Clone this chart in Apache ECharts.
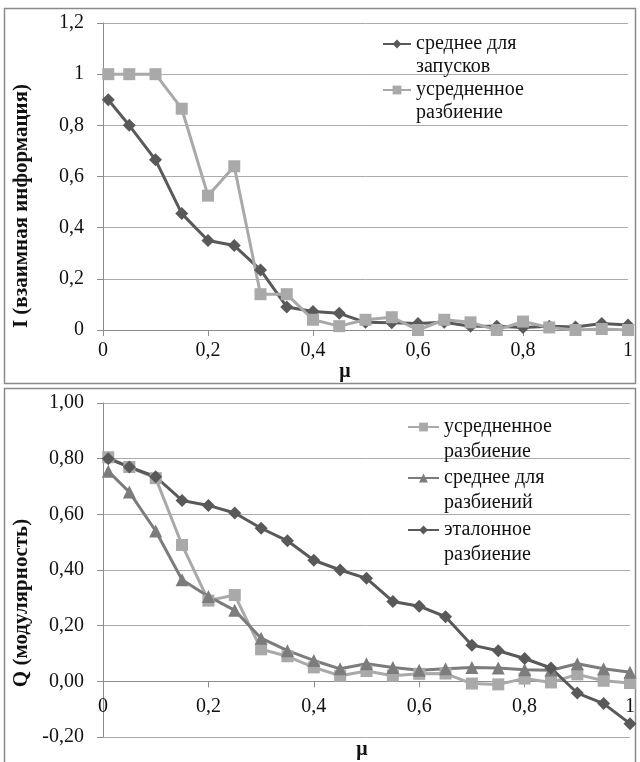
<!DOCTYPE html>
<html>
<head>
<meta charset="utf-8">
<script src="https://cdn.jsdelivr.net/npm/echarts@6/dist/echarts.min.js"></script>
<style>
html,body{margin:0;padding:0;background:#fff;}
#c{width:640px;height:762px;font-family:"Liberation Serif",serif;}
</style>
</head>
<body>
<div id="c"></div>
<script>
// ---- data ----
var muValues = [0.01, 0.05, 0.1, 0.15, 0.2, 0.25, 0.3, 0.35, 0.4, 0.45, 0.5, 0.55, 0.6, 0.65, 0.7, 0.75, 0.8, 0.85, 0.9, 0.95, 1.0];

// top chart: I (mutual information)
var topNames = ['среднее для запусков', 'усредненное разбиение'];
var topAvgRuns = [0.90, 0.80, 0.665, 0.455, 0.35, 0.33, 0.235, 0.09, 0.072, 0.065, 0.03, 0.028, 0.025, 0.03, 0.015, 0.015, 0.01, 0.015, 0.012, 0.025, 0.02];
var topAvgPartition = [1.0, 1.0, 1.0, 0.865, 0.525, 0.64, 0.14, 0.14, 0.04, 0.015, 0.04, 0.05, 0.0, 0.04, 0.03, 0.0, 0.033, 0.01, 0.0, 0.004, 0.0];

// bottom chart: Q (modularity)
var botNames = ['усредненное разбиение', 'среднее для разбиений', 'эталонное разбиение'];
var botAvgPartition = [0.805, 0.77, 0.73, 0.49, 0.29, 0.31, 0.115, 0.09, 0.05, 0.02, 0.037, 0.02, 0.027, 0.028, -0.008, -0.011, 0.01, -0.004, 0.025, 0.002, -0.006];
var botAvgOfPartitions = [0.755, 0.68, 0.54, 0.365, 0.305, 0.255, 0.155, 0.11, 0.075, 0.045, 0.063, 0.05, 0.04, 0.045, 0.05, 0.048, 0.042, 0.04, 0.063, 0.045, 0.033];
var botReference = [0.80, 0.77, 0.735, 0.65, 0.632, 0.605, 0.55, 0.505, 0.435, 0.40, 0.37, 0.287, 0.27, 0.232, 0.13, 0.11, 0.082, 0.048, -0.042, -0.08, -0.152];

var topYTitle = 'I (взаимная информация)';
var botYTitle = 'Q (модулярность)';
var xTitle = 'μ';

// ---- helpers ----
function pairs(ys){ return muValues.map(function(x,i){ return [x, ys[i]]; }); }
var FONT = 'Liberation Serif';
var DARK = '#595959', LIGHT = '#a9a9a9', MID = '#7c7c7c';
var GRIDC = '#ababab', AXISC = '#8c8c8c';

function xFmt(v){ var r = Math.round(v*10)/10; return String(r).replace('.', ','); }
function yFmtTop(v){ var r = Math.round(v*10)/10; return String(r).replace('.', ','); }
function yFmtBot(v){ var r = Math.round(v*100)/100; return r.toFixed(2).replace('.', ','); }
// blank first line so that the legend icon sits on the first text line
function twoLine(name){ var i = name.lastIndexOf(' '); return ' \n' + name.slice(0,i) + '\n' + name.slice(i+1); }

var BOT_H = 334;
function xAxis(gi, margin, offset){
  return {
    type:'value', gridIndex:gi, min:0, max:1, interval:0.2, position:'bottom', offset:offset,
    axisLine:{show:true, onZero:false, lineStyle:{color:AXISC, width:1}},
    axisTick:{show:true, length:6, lineStyle:{color:AXISC}},
    splitLine:{show:false},
    axisLabel:{formatter:xFmt, margin:margin, color:'#111', fontFamily:FONT, fontSize:20}
  };
}
function yAxis(gi, min, max, fmt){
  return {
    type:'value', gridIndex:gi, min:min, max:max, interval:0.2,
    axisLine:{show:true, onZero:false, lineStyle:{color:AXISC, width:1}},
    axisTick:{show:true, length:6, lineStyle:{color:AXISC}},
    splitLine:{show:true, lineStyle:{color:GRIDC, width:1}},
    axisLabel:{formatter:fmt, margin:19, color:'#111', fontFamily:FONT, fontSize:20}
  };
}
function lineSeries(name, ys, gi, color, symbol, size){
  return {
    name:name, type:'line', xAxisIndex:gi, yAxisIndex:gi, data:pairs(ys),
    symbol:symbol, symbolSize:size, showSymbol:true,
    lineStyle:{color:color, width:3},
    itemStyle:{color:color},
    emphasis:{disabled:true}, animation:false
  };
}
function legendItem(name, left, centerY, lh, iw){
  return {
    data:[name], left:left, top:centerY - 1.5*lh, orient:'vertical', padding:0,
    itemWidth:iw, itemHeight:11, itemGap:0, selectedMode:false,
    formatter:twoLine,
    textStyle:{fontFamily:FONT, fontSize:20, color:'#111', lineHeight:lh}
  };
}

var chart = echarts.init(document.getElementById('c'), null, {renderer:'canvas'});
chart.setOption({
  backgroundColor:'#fff',
  animation:false,
  textStyle:{fontFamily:FONT},
  grid:[
    {left:103, top:23, width:525, height:307},
    {left:103, top:403, width:527, height:BOT_H}
  ],
  // bottom x axis is shifted up to the 0 level of a -0.2..1.0 axis
  xAxis:[xAxis(0, 11, 0), xAxis(1, 15, -BOT_H * 0.2 / 1.2)],
  yAxis:[yAxis(0, 0, 1.2, yFmtTop), yAxis(1, -0.2, 1.0, yFmtBot)],
  legend:[
    legendItem(topNames[0], 382, 44, 23, 28),
    legendItem(topNames[1], 382, 90, 23, 28),
    legendItem(botNames[0], 407, 427, 25, 31),
    legendItem(botNames[1], 407, 478, 25, 31),
    legendItem(botNames[2], 407, 530, 25, 31)
  ],
  series:[
    lineSeries(topNames[0], topAvgRuns, 0, DARK, 'diamond', 13),
    lineSeries(topNames[1], topAvgPartition, 0, LIGHT, 'rect', 12),
    lineSeries(botNames[0], botAvgPartition, 1, LIGHT, 'rect', 12),
    lineSeries(botNames[1], botAvgOfPartitions, 1, MID, 'triangle', 13),
    lineSeries(botNames[2], botReference, 1, DARK, 'diamond', 13)
  ],
  graphic:[
    {type:'rect', shape:{x:4.5, y:8.5, width:631, height:375}, style:{fill:'none', stroke:'#8a8a8a', lineWidth:1.5}, silent:true},
    {type:'rect', shape:{x:4.5, y:388.5, width:631, height:390}, style:{fill:'none', stroke:'#8a8a8a', lineWidth:1.5}, silent:true},
    {type:'text', x:22, y:206, rotation:Math.PI/2, style:{text:topYTitle, font:'bold 21px "Liberation Serif"', fill:'#111', align:'center', verticalAlign:'middle'}, silent:true},
    {type:'text', x:22, y:603, rotation:Math.PI/2, style:{text:botYTitle, font:'bold 21px "Liberation Serif"', fill:'#111', align:'center', verticalAlign:'middle'}, silent:true},
    {type:'text', x:345, y:372, style:{text:xTitle, font:'bold 20px "Liberation Serif"', fill:'#111', align:'center', verticalAlign:'middle'}, silent:true},
    {type:'text', x:362, y:750, style:{text:xTitle, font:'bold 20px "Liberation Serif"', fill:'#111', align:'center', verticalAlign:'middle'}, silent:true}
  ]
});
</script>
</body>
</html>
